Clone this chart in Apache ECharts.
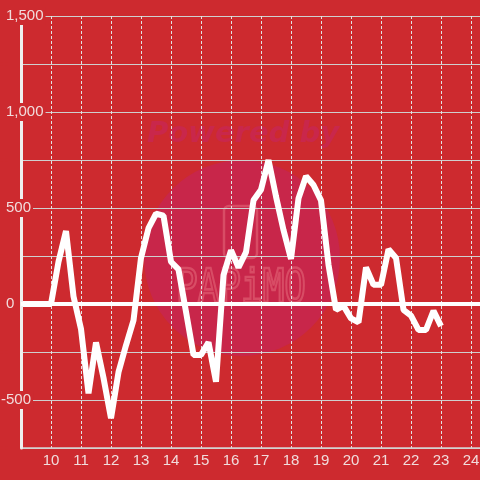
<!DOCTYPE html>
<html>
<head>
<meta charset="utf-8">
<style>
html,body{margin:0;padding:0;background:#cd2a2f;}
#c{width:480px;height:480px;}
</style>
<script src="https://cdn.jsdelivr.net/npm/echarts@6/dist/echarts.min.js"></script>
</head>
<body>
<div id="c"></div>
<script>
// time of day (hours)
const xValues = [9,9.25,9.5,9.75,10,10.25,10.5,10.75,11,11.25,11.5,11.75,12,12.25,12.5,12.75,13,13.25,13.5,13.75,14,14.25,14.5,14.75,15,15.25,15.5,15.75,16,16.25,16.5,16.75,17,17.25,17.5,17.75,18,18.25,18.5,18.75,19,19.25,19.5,19.75,20,20.25,20.5,20.75,21,21.25,21.5,21.75,22,22.25,22.5,22.75,23];
const yValues = [0,0,0,0,0,220,380,40,-130,-465,-200,-385,-595,-355,-215,-85,240,395,470,460,220,180,-40,-265,-265,-200,-405,150,280,190,270,540,595,750,560,385,235,550,665,620,540,205,-30,-10,-75,-95,190,100,100,285,240,-30,-60,-135,-135,-35,-115];
const xTickLabels = [10,11,12,13,14,15,16,17,18,19,20,21,22,23,24];
const yTickLabels = [-500,0,500,1000,1500];

const BG = '#cd2a2f';
const LABEL_COLOR = '#f1dcdc';
const FONT = 'Liberation Sans';
const fmt = v => String(v).replace(/\B(?=(\d{3})+(?!\d))/g, ',');

const chart = echarts.init(document.getElementById('c'), null, {renderer:'canvas'});
const yBase = {type:'value', min:-750, max:1500, interval:250, position:'left'};
const labelBox = {backgroundColor:BG, padding:[2,2,1,1], color:LABEL_COLOR, fontFamily:FONT, fontSize:15, align:'left', lineHeight:15};

chart.setOption({
  backgroundColor: BG,
  animation: false,
  grid: {left:21, right:0, top:16, bottom:32, containLabel:false, outerBoundsMode:'none'},
  graphic: [
    {type:'circle', z:-1, silent:true, shape:{cx:242, cy:258, r:98}, style:{fill:'#c8264a'}},
    {type:'text', z:-1, silent:true, x:243, y:134, style:{text:'Powered by', font:'italic bold 29px "DejaVu Sans"', fill:'#c9274b', textAlign:'center', textVerticalAlign:'middle'}},
    {type:'rect', z:-1, silent:true, shape:{x:224, y:206, width:33, height:52, r:5}, style:{fill:'none', stroke:'rgba(236,125,135,0.45)', lineWidth:2.5}},
    {type:'text', z:-1, silent:true, x:241, y:290, scaleY:1.3, style:{text:'PAPiMO', font:'36px "DejaVu Sans Mono"', fill:'none', stroke:'rgba(236,125,135,0.45)', lineWidth:2, textAlign:'center', textVerticalAlign:'middle'}}
  ],
  xAxis: {
    type:'value', min:9, max:24.3, interval:1,
    axisLine:{show:true, onZero:false, lineStyle:{color:'#d4d4d4', width:1.5}},
    axisTick:{show:false},
    axisLabel:{show:true, margin:5, color:LABEL_COLOR, fontFamily:FONT, fontSize:15, showMinLabel:false, showMaxLabel:false,
      formatter: v => xTickLabels.includes(v) ? String(v) : ''},
    splitLine:{show:true, lineStyle:{color:'#e2e2e2', width:1, type:[3,2]}}
  },
  yAxis: [
    Object.assign({}, yBase, {
      z:0,
      axisLine:{show:false}, axisTick:{show:false}, axisLabel:{show:false},
      splitLine:{show:true, lineStyle:{color:'#cfcfcf', width:1}}
    }),
    Object.assign({}, yBase, {
      z:3,
      axisLine:{show:true, onZero:false, lineStyle:{color:'#efefef', width:3}},
      axisTick:{show:false},
      splitLine:{show:false},
      axisLabel:Object.assign({margin:16, formatter: v => (v >= 0 && yTickLabels.includes(v)) ? fmt(v) : ''}, labelBox)
    }),
    Object.assign({}, yBase, {
      z:3,
      axisLine:{show:false}, axisTick:{show:false}, splitLine:{show:false},
      axisLabel:Object.assign({margin:21, formatter: v => (v < 0 && yTickLabels.includes(v)) ? fmt(v) : ''}, labelBox)
    })
  ],
  series: [{
    type:'line',
    yAxisIndex:0,
    data: xValues.map((x, i) => [x, yValues[i]]),
    showSymbol:false,
    symbol:'none',
    lineStyle:{color:'#ffffff', width:6, join:'bevel'},
    z:2,
    markLine:{
      silent:true, symbol:['none','none'], label:{show:false},
      lineStyle:{color:'#ffffff', width:4, type:'solid'},
      data:[{yAxis:0}]
    }
  }]
});
</script>
</body>
</html>
